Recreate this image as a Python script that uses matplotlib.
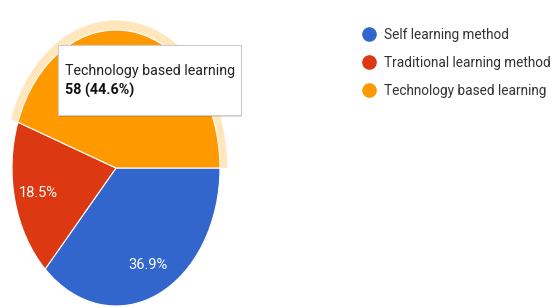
import matplotlib
matplotlib.use("Agg")
import matplotlib.pyplot as plt
from matplotlib.patches import Wedge, FancyBboxPatch
from matplotlib.lines import Line2D

plt.rcParams["font.family"] = ["Roboto", "DejaVu Sans"]

labels = ["Self learning method", "Traditional learning method", "Technology based learning"]
counts = [48, 24, 58]
colors = ["#3366cc", "#dc3912", "#ff9900"]
hover = 2  # slice with the tooltip
total = sum(counts)

W, H = 552, 307
fig = plt.figure(figsize=(W / 100, H / 100), dpi=100)

# pie is stretched vertically: centre (116,168) px, rx 104, ry 138
cx, cy, rx, ry = 116, 168, 104, 138
xl, yl = 1.2, 1.15
ax = fig.add_axes([(cx - xl * rx) / W, (H - cy - yl * ry) / H,
                   2 * xl * rx / W, 2 * yl * ry / H])

wedges, texts, autotexts = ax.pie(
    counts, colors=colors, startangle=0, counterclock=False,
    autopct="%.1f%%", pctdistance=0.77,
    wedgeprops=dict(edgecolor="white", linewidth=0.8),
    textprops=dict(color="white", fontsize=10.5))
autotexts[hover].set_visible(False)

# highlight ring round the hovered slice
w = wedges[hover]
ax.add_patch(Wedge((0, 0), 1.07, w.theta1, w.theta2, width=0.07,
                   facecolor="#ffe6bd", edgecolor="none", zorder=0))

ax.set_aspect("auto")
ax.set_xlim(-xl, xl)
ax.set_ylim(-yl, yl)
ax.axis("off")

# tooltip
x0, y0, x1, y1 = 58, 45, 241, 115
fig.add_artist(FancyBboxPatch((x0 / W + 0.002, 1 - y1 / H - 0.005), (x1 - x0) / W, (y1 - y0) / H,
                              boxstyle="square,pad=0", transform=fig.transFigure,
                              facecolor="#000000", alpha=0.12, edgecolor="none"))
fig.add_artist(FancyBboxPatch((x0 / W, 1 - y1 / H), (x1 - x0) / W, (y1 - y0) / H,
                              boxstyle="square,pad=0", transform=fig.transFigure,
                              facecolor="white", edgecolor="#cccccc", linewidth=0.8))
fig.text(65 / W, 1 - 71 / H, labels[hover], fontsize=10.3, color="#222222", va="center")
fig.text(65 / W, 1 - 90 / H, f"{counts[hover]} ({counts[hover] / total * 100:.1f}%)",
         fontsize=10.3, color="#111111", fontweight="bold", va="center")

handles = [Line2D([], [], marker="o", ls="", color=c, markersize=9.5) for c in colors]
fig.legend(handles, labels, loc="upper left", bbox_to_anchor=(362 / W, 1 - 28 / H),
           frameon=False, fontsize=9.8, labelspacing=1.03, handlelength=1,
           handletextpad=0.65, borderpad=0, borderaxespad=0, labelcolor="#333333")

fig.savefig("out.png", dpi=100)
